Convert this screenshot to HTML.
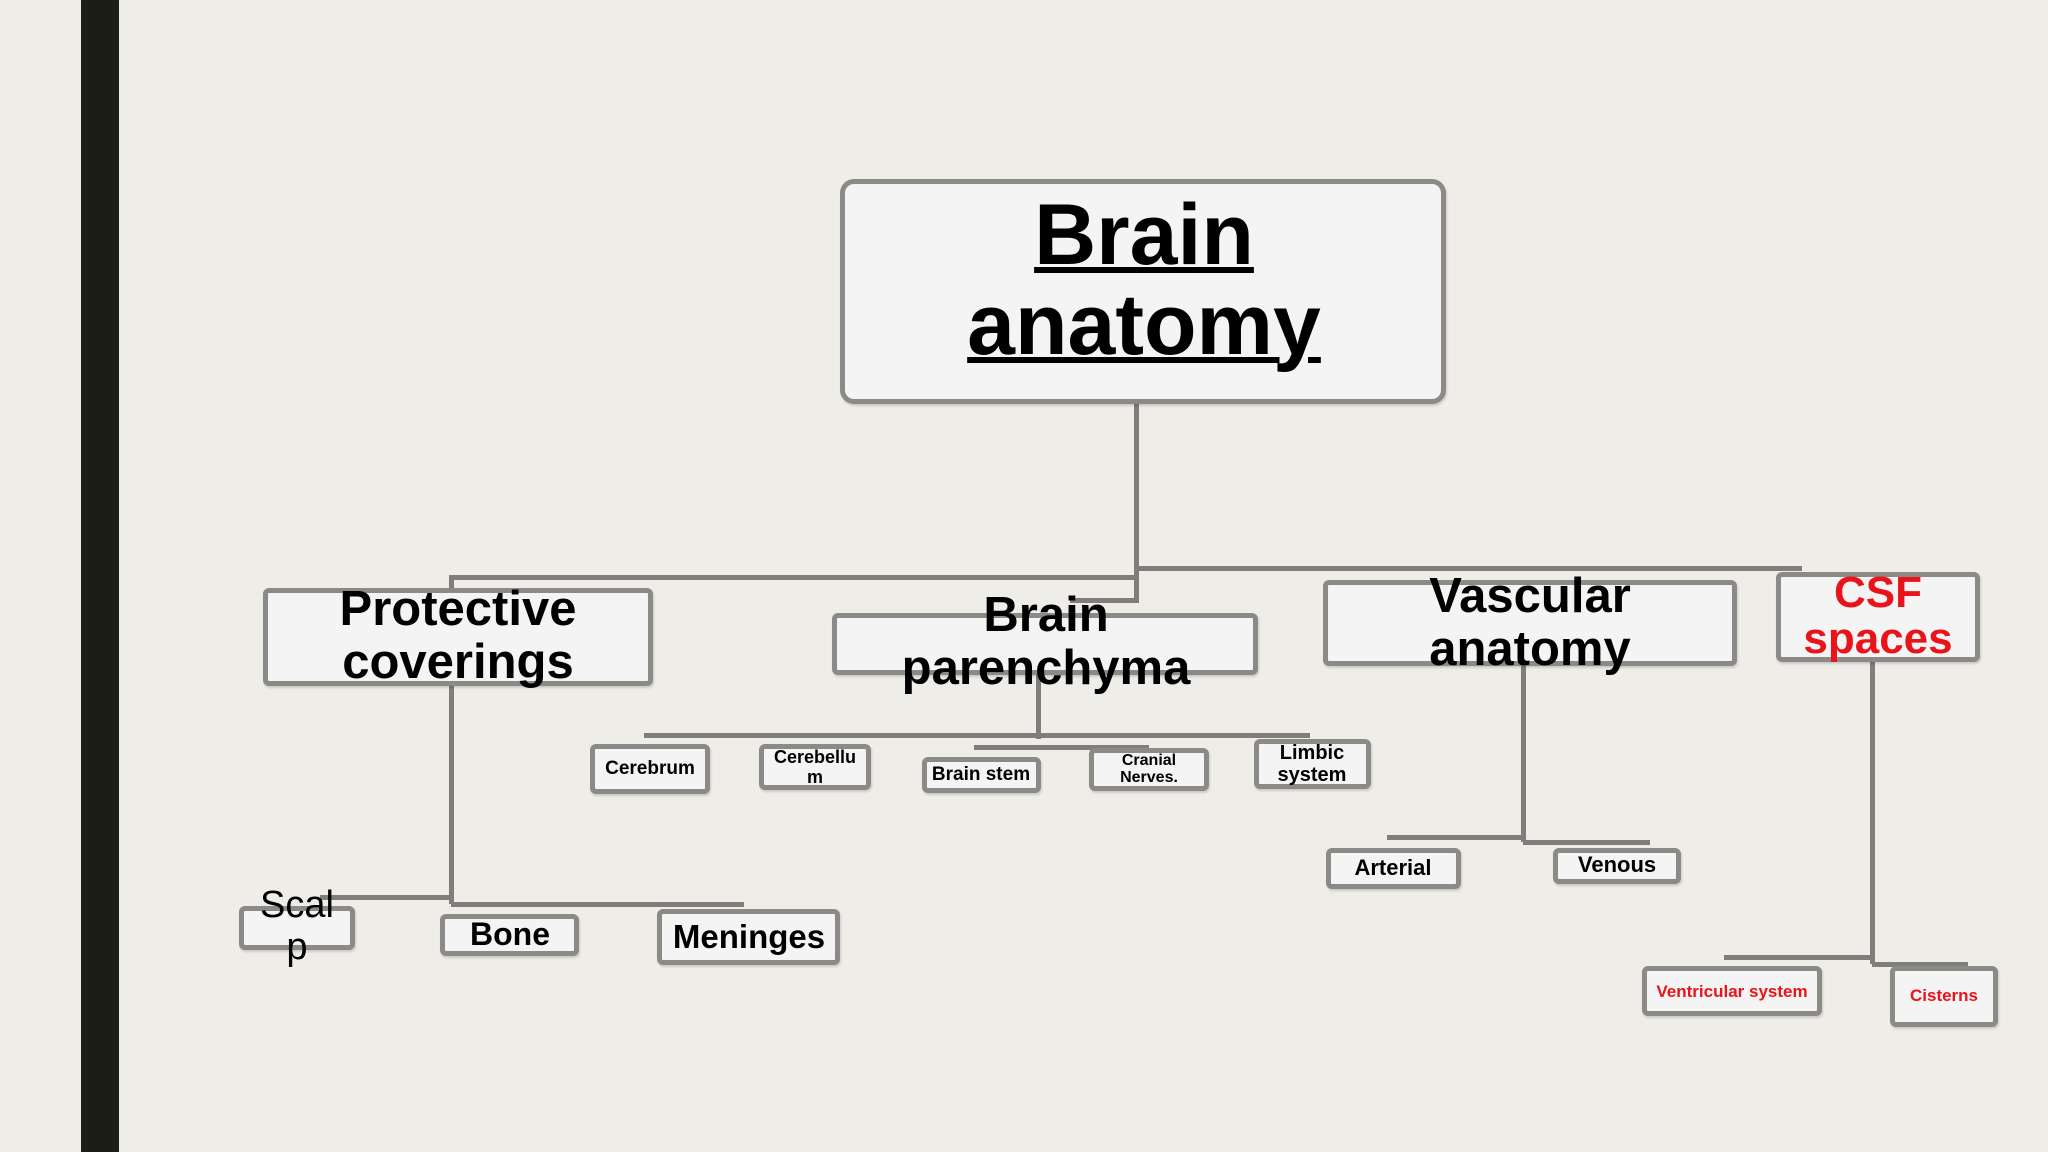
<!DOCTYPE html>
<html><head><meta charset="utf-8"><style>
body{margin:0;width:2048px;height:1152px;background:#efede7;position:relative;overflow:hidden;font-family:"Liberation Sans",Arial,sans-serif;}
.bar{position:absolute;left:81px;top:0;width:38px;height:1152px;background:#1c1d17}
.b{position:absolute;box-sizing:border-box;border:5px solid #8b8a86;background:#f5f4f5;border-radius:6px;box-shadow:1px 2px 2px rgba(0,0,0,.15)}
.t{position:absolute;text-align:center;font-weight:bold;color:#000;white-space:nowrap;transform:translateX(-50%)}
.l{position:absolute;background:#7f7e7a}
.r{color:#e8141a}
</style></head><body>
<div class="bar"></div>
<!-- connectors -->
<div class="l" style="left:1134px;top:404px;width:5px;height:198px"></div>
<div class="l" style="left:451px;top:575px;width:688px;height:5px"></div>
<div class="l" style="left:1134px;top:566px;width:668px;height:5px"></div>
<div class="l" style="left:449px;top:575px;width:5px;height:14px"></div>
<div class="l" style="left:1070px;top:598px;width:69px;height:5px"></div>
<div class="l" style="left:449px;top:686px;width:5px;height:218px"></div>
<div class="l" style="left:320px;top:895px;width:134px;height:5px"></div>
<div class="l" style="left:451px;top:902px;width:293px;height:5px"></div>
<div class="l" style="left:1036px;top:675px;width:5px;height:64px"></div>
<div class="l" style="left:644px;top:733px;width:666px;height:5px"></div>
<div class="l" style="left:974px;top:745px;width:175px;height:5px"></div>
<div class="l" style="left:1521px;top:666px;width:5px;height:176px"></div>
<div class="l" style="left:1387px;top:835px;width:139px;height:5px"></div>
<div class="l" style="left:1523px;top:840px;width:127px;height:5px"></div>
<div class="l" style="left:1870px;top:662px;width:5px;height:302px"></div>
<div class="l" style="left:1724px;top:955px;width:151px;height:5px"></div>
<div class="l" style="left:1872px;top:962px;width:96px;height:5px"></div>
<!-- boxes -->
<div class="b" style="left:840px;top:179px;width:606px;height:225px;border-radius:14px"></div>
<div class="t" style="left:1144px;top:190px;font-size:86px;line-height:90px;text-decoration:underline;text-decoration-thickness:6px">Brain<br>anatomy</div>
<div class="b" style="left:263px;top:588px;width:390px;height:98px"></div>
<div class="t" style="left:458px;top:583px;font-size:49px;line-height:53px">Protective<br>coverings</div>
<div class="b" style="left:832px;top:613px;width:426px;height:62px"></div>
<div class="t" style="left:1046px;top:589px;font-size:49px;line-height:53px">Brain<br>parenchyma</div>
<div class="b" style="left:1323px;top:580px;width:414px;height:86px"></div>
<div class="t" style="left:1530px;top:570px;font-size:49px;line-height:53px">Vascular<br>anatomy</div>
<div class="b" style="left:1776px;top:572px;width:204px;height:90px"></div>
<div class="t r" style="left:1878px;top:570px;font-size:44px;line-height:46px">CSF<br>spaces</div>
<div class="b" style="left:239px;top:906px;width:116px;height:44px"></div>
<div class="t" style="left:297px;top:884px;font-size:38px;line-height:42px;font-weight:normal">Scal<br>p</div>
<div class="b" style="left:440px;top:914px;width:139px;height:42px"></div>
<div class="t" style="left:510px;top:916px;font-size:32px;line-height:36px">Bone</div>
<div class="b" style="left:657px;top:909px;width:183px;height:56px"></div>
<div class="t" style="left:749px;top:918px;font-size:33px;line-height:38px">Meninges</div>
<div class="b" style="left:590px;top:744px;width:120px;height:50px"></div>
<div class="t" style="left:650px;top:758px;font-size:19px;line-height:22px">Cerebrum</div>
<div class="b" style="left:759px;top:744px;width:112px;height:46px"></div>
<div class="t" style="left:815px;top:747px;font-size:18px;line-height:20px">Cerebellu<br>m</div>
<div class="b" style="left:922px;top:757px;width:119px;height:36px"></div>
<div class="t" style="left:981px;top:764px;font-size:19px;line-height:22px">Brain stem</div>
<div class="b" style="left:1089px;top:748px;width:120px;height:43px"></div>
<div class="t" style="left:1149px;top:752px;font-size:16px;line-height:17px">Cranial<br>Nerves.</div>
<div class="b" style="left:1254px;top:739px;width:117px;height:50px"></div>
<div class="t" style="left:1312px;top:742px;font-size:20px;line-height:22px">Limbic<br>system</div>
<div class="b" style="left:1326px;top:848px;width:135px;height:41px"></div>
<div class="t" style="left:1393px;top:855px;font-size:22px;line-height:26px">Arterial</div>
<div class="b" style="left:1553px;top:848px;width:128px;height:36px"></div>
<div class="t" style="left:1617px;top:852px;font-size:22px;line-height:26px">Venous</div>
<div class="b" style="left:1642px;top:966px;width:180px;height:50px"></div>
<div class="t r" style="left:1732px;top:982px;font-size:17px;line-height:20px">Ventricular system</div>
<div class="b" style="left:1890px;top:966px;width:108px;height:61px"></div>
<div class="t r" style="left:1944px;top:986px;font-size:17px;line-height:20px">Cisterns</div>
</body></html>
